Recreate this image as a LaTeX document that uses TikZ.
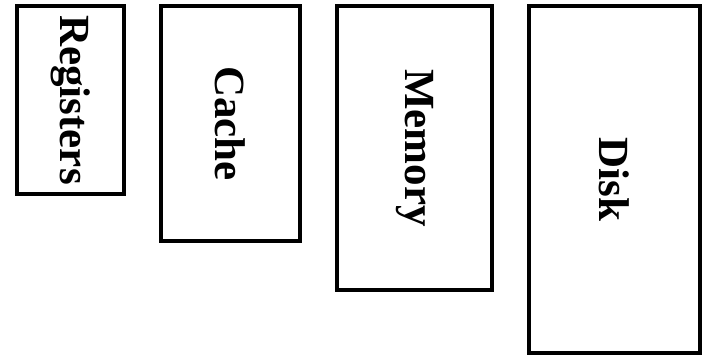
\documentclass[tikz,border=0pt]{standalone}
\usepackage{xcolor}
\usepackage{fontspec}
\setmainfont{Liberation Serif}
\usepackage{tikz}

\begin{document}
\begin{tikzpicture}[x=1pt,y=-1pt,
  tier/.style={draw,line width=4.5pt,rotate=-90,inner sep=0pt,
    font=\fontsize{43pt}{43pt}\selectfont\bfseries}]
\useasboundingbox (0,0) rectangle (703,355);
\node[tier,minimum width=188pt,minimum height=107pt] (reg) at (70.5,100) {Registers};
\node[tier,minimum width=235pt,minimum height=139pt] (cache) at (230.5,123.5) {Cache};
\node[tier,minimum width=284pt,minimum height=155pt] (mem) at (414.5,148) {Memory};
\node[tier,minimum width=347pt,minimum height=171pt] (disk) at (614.5,179.5) {Disk};
\end{tikzpicture}
\end{document}
